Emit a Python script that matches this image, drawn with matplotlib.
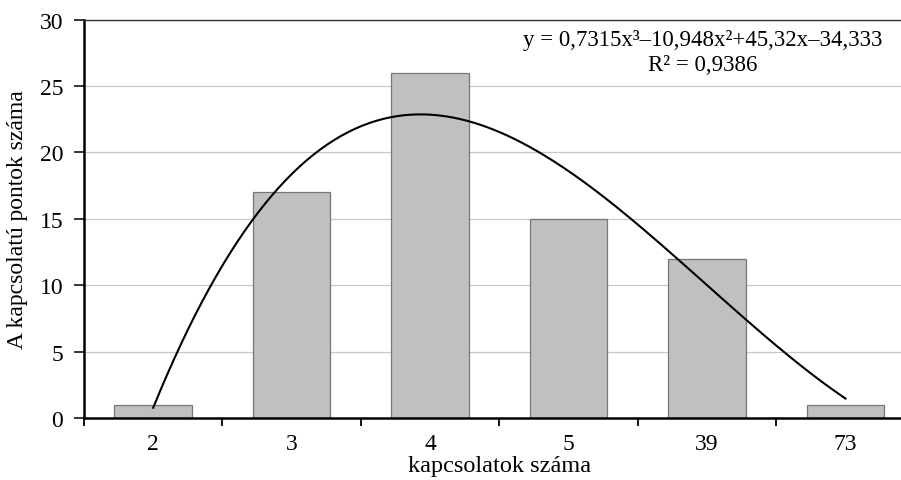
import numpy as np
import matplotlib.pyplot as plt

plt.rcParams['font.family'] = ['Liberation Serif', 'DejaVu Serif']

categories = ['2', '3', '4', '5', '39', '73']
values = [1, 17, 26, 15, 12, 1]
# polynomial trendline coefficients as printed on the chart
trend_coef = [0.7315, -10.948, 45.32, -34.333]
trend_text = 'y = 0,7315x³–10,948x²+45,32x–34,333\nR² = 0,9386'

fig = plt.figure(figsize=(9.01, 4.81), dpi=100)
ax = fig.add_axes([0.0932, 0.129, 0.922, 0.828])

x = np.arange(1, len(categories) + 1)
ax.bar(x, values, width=0.56, color='#c0c0c0', edgecolor='#777777',
       linewidth=0.9, zorder=2)

xs = np.linspace(1, len(categories), 200)
ax.plot(xs, np.polyval(trend_coef, xs), color='black', lw=1.5, zorder=3)

ax.set_xlim(0.5, len(categories) + 0.5)
ax.set_ylim(0, 30)
ax.set_yticks(range(0, 31, 5))
ax.yaxis.grid(True, color='#c8c8c8', lw=0.9, zorder=0)
ax.set_axisbelow(True)

ax.set_xticks(x)
ax.set_xticklabels(categories)
ax.set_xticks(np.arange(0.5, len(categories) + 0.5), minor=True)
ax.tick_params(axis='x', which='major', length=0, pad=11, labelsize=17)
ax.tick_params(axis='x', which='minor', length=6, width=1.3, direction='out')
ax.tick_params(axis='y', length=7, width=1.1, direction='out', pad=8,
               labelsize=17)

ax.spines['left'].set_linewidth(1.8)
ax.spines['bottom'].set_linewidth(1.8)
ax.spines['top'].set_linewidth(1.0)
ax.spines['top'].set_color('#333333')
ax.spines['right'].set_visible(False)

ax.set_xlabel('kapcsolatok száma', fontsize=17.5, labelpad=0.5)
ax.set_ylabel('A kapcsolatú pontok száma', fontsize=17)
ax.yaxis.set_label_coords(-0.067, 0.5)

ax.text(0.745, 0.977, trend_text, transform=ax.transAxes, ha='center',
        va='top', fontsize=16.5, linespacing=1.25)

fig.savefig('out.png', dpi=100)
